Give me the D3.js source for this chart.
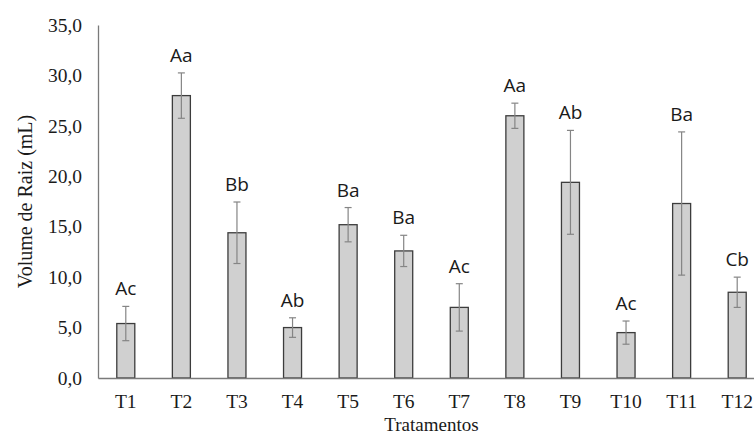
<!DOCTYPE html>
<html>
<head>
<meta charset="utf-8">
<script src="https://cdn.jsdelivr.net/npm/d3@7"></script>
<style>
  html, body { margin: 0; padding: 0; background: #fff; }
  svg { display: block; }
</style>
</head>
<body>
<svg id="chart" width="754" height="434"></svg>
<script>
// Root volume per treatment: mean, error-bar half-length and significance letters
const categories = ["T1","T2","T3","T4","T5","T6","T7","T8","T9","T10","T11","T12"];
const means      = [5.4, 28.0, 14.4, 5.0, 15.2, 12.6, 7.0, 26.0, 19.4, 4.5, 17.3, 8.5];
const errors     = [1.7, 2.25, 3.05, 0.97, 1.7, 1.55, 2.35, 1.25, 5.15, 1.15, 7.1, 1.5];
const letters    = ["Ac","Aa","Bb","Ab","Ba","Ba","Ac","Aa","Ab","Ac","Ba","Cb"];
const yTicks     = [0, 5, 10, 15, 20, 25, 30, 35];

const serif = '"Liberation Serif", "Times New Roman", Times, serif';
const sans  = '"Open Sans", "Noto Sans", sans-serif';
const ink   = "#1a1a1a";

const svg = d3.select("#chart");
const plotLeft = 98, plotTop = 25, plotBottom = 378, plotRight = 765;

const x = d3.scaleBand()
  .domain(categories)
  .range([plotLeft, plotRight])
  .paddingInner(0.676)
  .paddingOuter(0.338);

const y = d3.scaleLinear().domain([0, 35]).range([plotBottom, plotTop]);

const fmt = v => d3.format(".1f")(v).replace(".", ",");

// Y axis: line plus labels, no tick marks
const yAxis = svg.append("g")
  .attr("transform", `translate(${plotLeft},0)`)
  .call(d3.axisLeft(y).tickValues(yTicks).tickFormat(fmt).tickSize(0).tickPadding(16))
  .attr("font-family", serif)
  .attr("font-size", 19.5);
yAxis.select(".domain").attr("stroke", "#7a7a7a").attr("stroke-width", 1.3);
yAxis.selectAll("text").attr("fill", ink);

// Bars
svg.append("g").selectAll("rect")
  .data(categories)
  .join("rect")
  .attr("x", d => x(d))
  .attr("y", (d, i) => y(means[i]))
  .attr("width", x.bandwidth())
  .attr("height", (d, i) => y(0) - y(means[i]))
  .attr("fill", "#d0d0d0")
  .attr("stroke", "#3c3c3c")
  .attr("stroke-width", 1.3);

// Error bars
const eb = svg.append("g").attr("stroke", "#858585").attr("stroke-width", 1.2);
categories.forEach((c, i) => {
  const cx = x(c) + x.bandwidth() / 2;
  const hi = y(means[i] + errors[i]), lo = y(means[i] - errors[i]);
  eb.append("line").attr("x1", cx).attr("x2", cx).attr("y1", hi).attr("y2", lo);
  eb.append("line").attr("x1", cx - 3.5).attr("x2", cx + 3.5).attr("y1", hi).attr("y2", hi);
  eb.append("line").attr("x1", cx - 3.5).attr("x2", cx + 3.5).attr("y1", lo).attr("y2", lo);
});

// X axis line across the plot
const xAxis = svg.append("g")
  .attr("transform", `translate(0,${plotBottom})`)
  .call(d3.axisBottom(x).tickSize(0).tickPadding(16))
  .attr("font-family", serif)
  .attr("font-size", 19.5);
xAxis.select(".domain").attr("stroke", "#7a7a7a").attr("stroke-width", 1.3);
xAxis.selectAll("text").attr("fill", ink);

// Significance letters above each error bar
svg.append("g")
  .attr("font-family", sans)
  .attr("font-size", 19)
  .attr("fill", ink)
  .selectAll("text")
  .data(categories)
  .join("text")
  .attr("x", d => x(d) + x.bandwidth() / 2)
  .attr("y", (d, i) => y(means[i] + errors[i]) - 11)
  .attr("text-anchor", "middle")
  .text((d, i) => letters[i]);

// Axis titles
svg.append("text")
  .attr("x", (plotLeft + plotRight) / 2)
  .attr("y", 431)
  .attr("text-anchor", "middle")
  .attr("font-family", serif)
  .attr("font-size", 19)
  .attr("fill", ink)
  .text("Tratamentos");

svg.append("text")
  .attr("transform", `translate(31.5,${(plotTop + plotBottom) / 2}) rotate(-90)`)
  .attr("text-anchor", "middle")
  .attr("font-family", serif)
  .attr("font-size", 20)
  .attr("fill", ink)
  .text("Volume de Raiz (mL)");
</script>
</body>
</html>
